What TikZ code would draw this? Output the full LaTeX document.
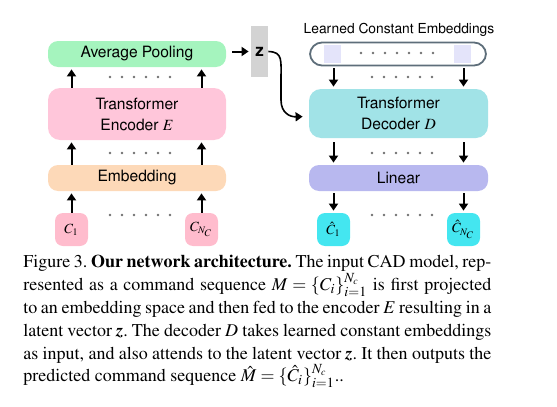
\documentclass[tikz,border=0pt]{standalone}
\usepackage[T1]{fontenc}
\usepackage{mathptmx}
\usepackage{helvet}
\usetikzlibrary{arrows.meta}

\definecolor{poolc}{HTML}{A5F4BE}
\definecolor{encc}{HTML}{FFC6DA}
\definecolor{embc}{HTML}{FDD9B8}
\definecolor{cmdc}{HTML}{FFBCCD}
\definecolor{decc}{HTML}{A1E3E7}
\definecolor{linc}{HTML}{B8B8EF}
\definecolor{outc}{HTML}{44E6F0}
\definecolor{zgray}{HTML}{D3D3D3}
\definecolor{pillc}{HTML}{5E6E7A}
\definecolor{lavc}{HTML}{E4E4FA}
\definecolor{dotc}{HTML}{707070}

\newcommand\capfont{\fontsize{9}{11.4}\selectfont\frenchspacing
  \spaceskip=0.25em plus 0.15em minus 0.1em\relax}

\tikzset{
  blk/.style={rounded corners=5pt, minimum width=89pt, inner sep=0pt, align=center,
    font=\sffamily\fontsize{7.8}{10.5}\selectfont},
  tok/.style={rounded corners=4pt, minimum width=16.5pt, minimum height=16.5pt, inner sep=0pt,
    font=\fontsize{7}{8}\selectfont},
  arr/.style={-{Triangle[length=3.5pt,width=4.5pt]}, line width=1pt, shorten >=1pt},
}

\begin{document}
\begin{tikzpicture}[x=0.5pt,y=-0.5pt]
    \useasboundingbox (0,0) rectangle (557,407);
    % encoder side
    \node[blk, fill=poolc, minimum height=13pt] (pool) at (137,54) {Average Pooling};
    \node[blk, fill=encc, minimum height=26pt, rounded corners=6pt] (enc) at (137,114) {Transformer\\Encoder $E$};
    \node[blk, fill=embc, minimum height=13pt] (emb) at (137,178) {Embedding};
    \node[tok, fill=cmdc] (c1) at (71.5,229.5) {$C_1$};
    \node[tok, fill=cmdc] (cn) at (201.5,229.5) {$C_{N_C}$};
    \foreach \s in {c1,cn} {
        \draw[arr] (\s.north) -- (emb.south -| \s);
        \draw[arr] (emb.north -| \s) -- (enc.south -| \s);
        \draw[arr] (enc.north -| \s) -- (pool.south -| \s);
    }
    \foreach \y in {77,153,215}
        \foreach \i in {0,...,5}
            \fill[dotc] (110+12*\i,\y) circle (0.7pt);
    % latent vector
    \node[fill=zgray, minimum width=8.5pt, minimum height=25.5pt, inner sep=0pt,
        font=\sffamily\bfseries\fontsize{8.5}{9}\selectfont] (z) at (259.5,51.5) {z};
    \draw[arr, shorten <=3pt] (z.west -| pool.east) -- (z.west);
    % decoder side
    \node[font=\sffamily\fontsize{6.9}{8}\selectfont] (lce) at (399,30) {Learned Constant Embeddings};
    \node[draw=pillc, line width=0.9pt, rounded corners=6pt, minimum width=88pt, minimum height=11.5pt] (pill) at (398,54) {};
    \node[fill=lavc, minimum width=8.5pt, minimum height=9pt, inner sep=0pt] (sq1) at (332.5,54) {};
    \node[fill=lavc, minimum width=8.5pt, minimum height=9pt, inner sep=0pt] (sq2) at (462.5,54) {};
    \foreach \i in {0,...,6}
        \fill[dotc] (361+12*\i,53) circle (0.7pt);
    \node[blk, fill=decc, minimum width=89.5pt, minimum height=24.5pt, rounded corners=6pt] (dec) at (398.5,113.5) {Transformer\\Decoder $D$};
    \node[blk, fill=linc, minimum width=89.5pt, minimum height=13pt] (lin) at (398.5,178) {Linear};
    \node[tok, fill=outc] (h1) at (333.5,229.5) {$\hat{C}_1$};
    \node[tok, fill=outc] (hn) at (463.5,229.5) {$\hat{C}_{N_C}$};
    \foreach \s in {h1,hn} {
        \draw[arr, shorten <=1pt] (pill.south -| \s) -- (dec.north -| \s);
        \draw[arr, shorten <=2pt] (dec.south -| \s) -- (lin.north -| \s);
        \draw[arr, shorten <=1pt] (lin.south -| \s) -- (\s.north);
    }
    \foreach \y in {77,153,215}
        \foreach \i in {0,...,5}
            \fill[dotc] (372+12*\i,\y) circle (0.7pt);
    \draw[arr, line width=0.8pt] (z.east) .. controls (283,52) and (281,60) .. (281,80)
        -- (281,100) .. controls (281,113) and (290,117) .. ([xshift=-2pt,yshift=-1.5pt]dec.west);
    % caption
    \node[anchor=north west, inner sep=0pt, text width=234pt, align=justify,
        font=\capfont] (cap) at (23,255) {%
        Figure 3. \textbf{Our network architecture.} The input CAD model, rep-\linebreak
        resented as a command sequence $M=\{C_i\}_{i=1}^{N_c}$ is first projected\linebreak
        to an embedding space and then fed to the encoder $E$ resulting in a\linebreak
        latent vector \textbf{\textit{z}}. The decoder $D$ takes learned constant embeddings\linebreak
        as input, and also attends to the latent vector \textbf{\textit{z}}. It then outputs the\linebreak
        predicted command sequence $\hat{M}=\{\hat{C}_i\}_{i=1}^{N_c}$..};
\end{tikzpicture}
\end{document}
